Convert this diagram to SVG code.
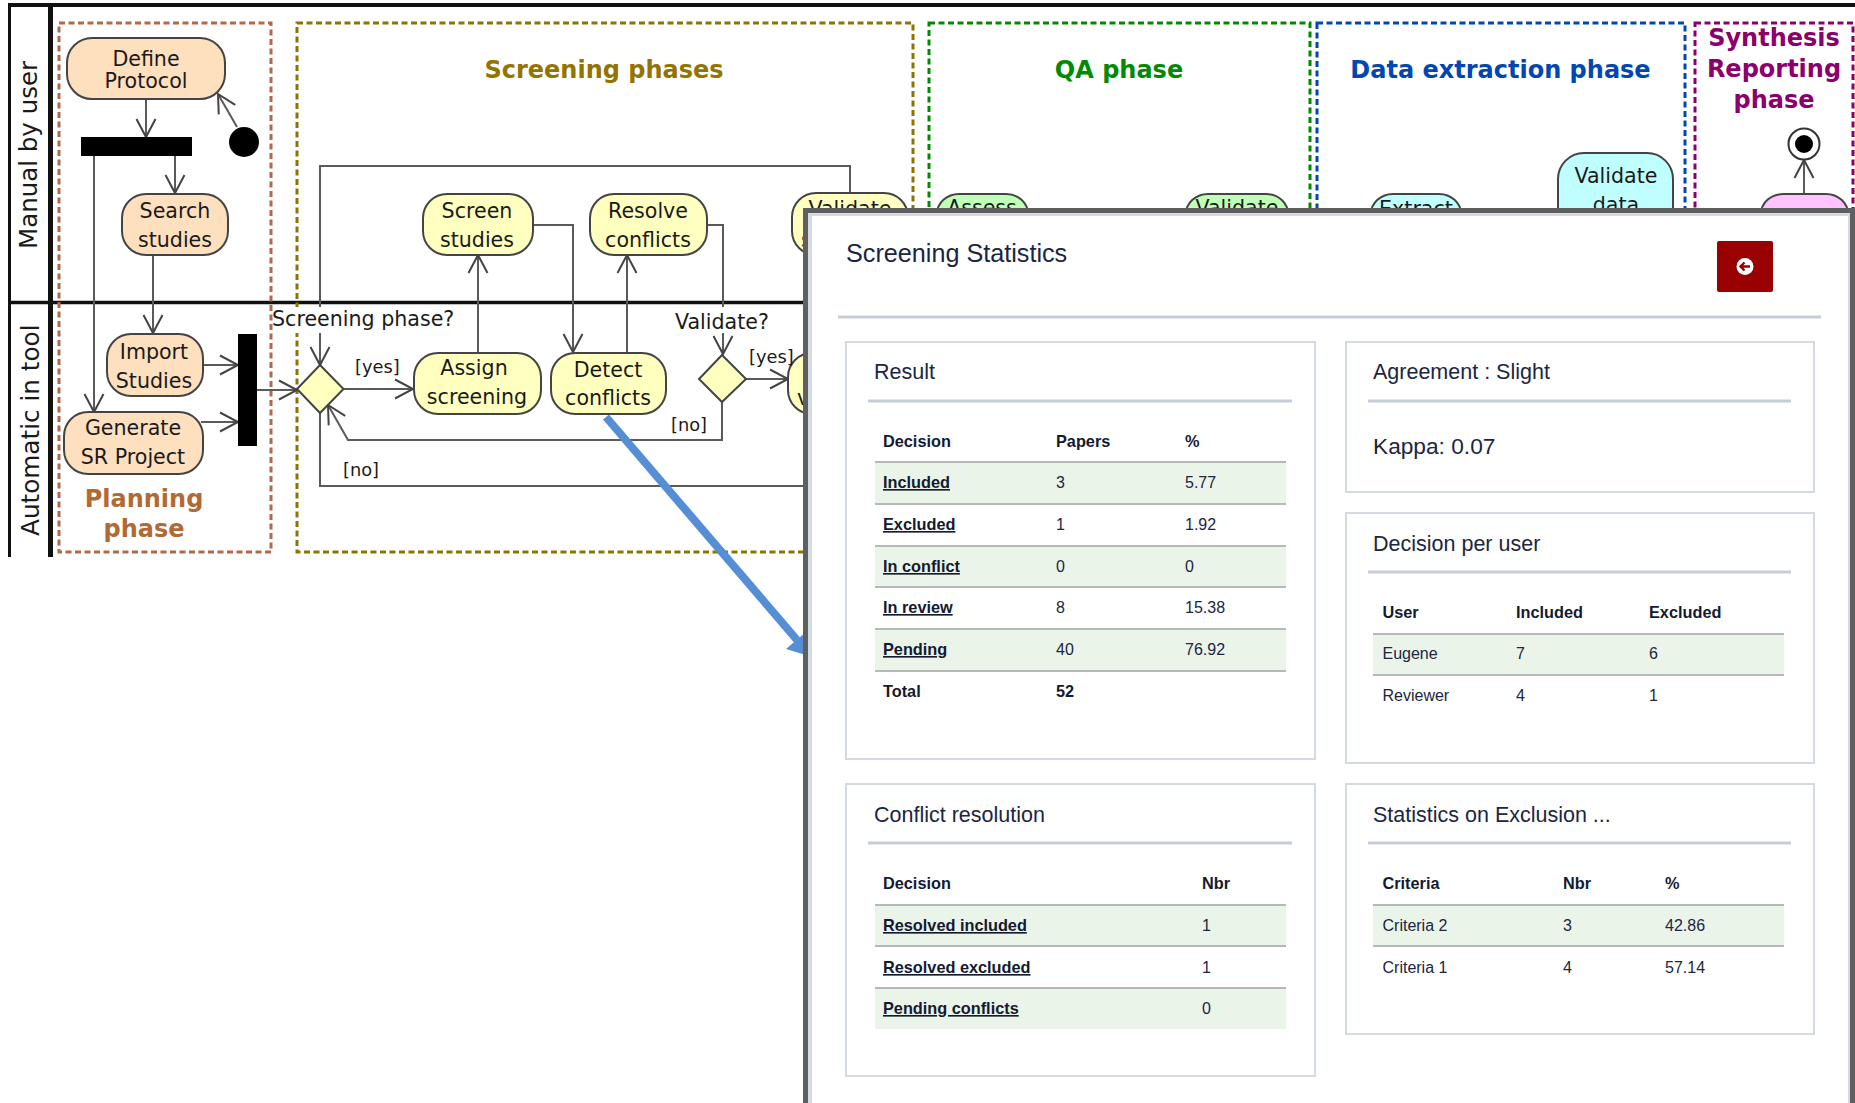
<svg xmlns="http://www.w3.org/2000/svg" width="1855" height="1103" viewBox="0 0 1855 1103">
<style>
.lane{stroke:#111;fill:none}
.ph{fill:none;stroke-width:3;stroke-dasharray:6 3.5}
.n{stroke:#444;stroke-width:2}
.o{fill:#fedfbe}.y{fill:#ffffc0}.g{fill:#c0ffb8}.c{fill:#bfffff}.p{fill:#ffc4ff}
.t{font-family:"DejaVu Sans",Verdana,sans-serif;font-size:20.6px;fill:#1a1a1a}
.m{text-anchor:middle}
.h{font-family:"DejaVu Sans",Verdana,sans-serif;font-size:24px;font-weight:bold;text-anchor:middle}
.l{font-family:"DejaVu Sans",Verdana,sans-serif;font-size:17.8px;fill:#1a1a1a}
.e{fill:none;stroke:#5a5a5a;stroke-width:2}
.a{marker-end:url(#open)}
.card{fill:#fff;stroke:#d3dae2;stroke-width:2}
.rule{stroke:#c5ced8;stroke-width:3}
.rl{stroke:#b5b9b8;stroke-width:2}
.gr{fill:#eaf4e9}
.s{font-family:"Liberation Sans",Arial,sans-serif;font-size:21.5px;fill:#1c2541}
.td{font-family:"Liberation Sans",Arial,sans-serif;font-size:16px;fill:#1c2541}
.b{font-weight:bold;fill:#141a30;font-size:16.3px}
.u{text-decoration:underline;text-decoration-skip-ink:none}
</style>
<defs>
<marker id="open" markerUnits="userSpaceOnUse" viewBox="-20 -11 22 22" markerWidth="22" markerHeight="22" refX="0" refY="0" orient="auto" overflow="visible">
<path d="M-18,-9.5 L0,0 L-18,9.5" fill="none" stroke="#444" stroke-width="2"/>
</marker>
</defs>
<rect width="1855" height="1103" fill="#fff"/>
<g id="lanes">
<path class="lane" stroke-width="4" d="M8,5 H1855"/>
<path class="lane" stroke-width="3" d="M9.5,5 V557"/>
<path class="lane" stroke-width="5" d="M50.5,5 V557"/>
<path class="lane" stroke-width="3.5" d="M8,302.5 H805"/>
<text class="t" style="font-size:24.5px" transform="translate(37,249) rotate(-90)">Manual by user</text>
<text class="t" style="font-size:24.7px" transform="translate(39,536) rotate(-90)">Automatic in tool</text>
</g>
<g id="phases">
<rect class="ph" x="59" y="23" width="212" height="529" stroke="#b0694a"/>
<rect class="ph" x="297" y="23" width="616" height="529" stroke="#8c7400"/>
<rect class="ph" x="929" y="23" width="381" height="300" stroke="#008a00"/>
<rect class="ph" x="1317" y="23" width="368" height="300" stroke="#0047b3"/>
<rect class="ph" x="1695" y="23" width="158" height="300" stroke="#8b006b"/>
<text class="h" x="604" y="78" fill="#947400">Screening phases</text>
<text class="h" x="1119" y="78" fill="#008a00">QA phase</text>
<text class="h" x="1500.5" y="78" fill="#0047b3">Data extraction phase</text>
<text class="h" x="1774" y="46" fill="#8b006b">Synthesis</text>
<text class="h" x="1774" y="77" fill="#8b006b">Reporting</text>
<text class="h" x="1774" y="108" fill="#8b006b">phase</text>
<text class="h" x="144" y="507" fill="#b26a35">Planning</text>
<text class="h" x="144" y="537" fill="#b26a35">phase</text>
</g>
<g id="connectors">
<path class="e a" d="M237,127 L218,94"/>
<path class="e a" d="M146,99 V137"/>
<path class="e a" d="M175,156 V193"/>
<path class="e a" d="M94,156 V412"/>
<path class="e a" d="M153,255 V333"/>
<path class="e a" d="M203,365 H238"/>
<path class="e a" d="M201,422 H238"/>
<path class="e a" d="M257,390 H297"/>
<path class="e a" d="M850,193 V166 H320 V365"/>
<path class="e a" d="M343,389 H413"/>
<path class="e a" d="M478,353 V255"/>
<path class="e a" d="M533,225 H573 V352"/>
<path class="e a" d="M627,353 V255"/>
<path class="e a" d="M707,225 H723 V354"/>
<path class="e a" d="M746,379 H788"/>
<path class="e a" d="M722,402 V440 H348 L328,405"/>
<path class="e" d="M320,413 V486 H805"/>
<path class="e a" d="M1804,193 V160"/>
</g>
<g id="start"><circle cx="244" cy="142" r="15" fill="#000"/></g>
<g id="fork1"><rect x="81" y="137" width="111" height="19" fill="#000"/></g>
<g id="fork2"><rect x="238" y="334" width="19" height="112" fill="#000"/></g>
<g id="define"><rect class="n o" x="67" y="38" width="158" height="61" rx="25"/><text class="t m" x="146" y="66">Define</text><text class="t m" x="146" y="88">Protocol</text></g>
<g id="search"><rect class="n o" x="122" y="194" width="106" height="61" rx="24"/><text class="t m" x="175" y="218">Search</text><text class="t m" x="175" y="247">studies</text></g>
<g id="import"><rect class="n o" x="107" y="334" width="96" height="62" rx="24"/><text class="t m" x="154" y="359">Import</text><text class="t m" x="154" y="388">Studies</text></g>
<g id="generate"><rect class="n o" x="64" y="412" width="139" height="62" rx="24"/><text class="t m" x="133" y="435">Generate</text><text class="t m" x="133" y="464">SR Project</text></g>
<g id="screen"><rect class="n y" x="423" y="194" width="110" height="61" rx="24"/><text class="t m" x="477" y="218">Screen</text><text class="t m" x="477" y="247">studies</text></g>
<g id="resolve"><rect class="n y" x="590" y="194" width="117" height="61" rx="24"/><text class="t m" x="648" y="218">Resolve</text><text class="t m" x="648" y="247">conflicts</text></g>
<g id="validate-screening"><rect class="n y" x="792" y="193" width="116" height="62" rx="24"/><text class="t m" x="850" y="216">Validate</text><text class="t" x="801" y="247">s</text></g>
<g id="assign"><rect class="n y" x="414" y="353" width="127" height="61" rx="24"/><text class="t m" x="474" y="375">Assign</text><text class="t m" x="477" y="404">screening</text></g>
<g id="detect"><rect class="n y" x="551" y="353" width="115" height="61" rx="24"/><text class="t m" x="608" y="377">Detect</text><text class="t m" x="608" y="405">conflicts</text></g>
<g id="next-yellow"><rect class="n y" x="788" y="353" width="60" height="61" rx="24"/><text class="t" x="797" y="405">v</text></g>
<g id="decision1"><path class="n y" d="M320,365 L343.500,389 L320,413 L297,389 Z"/></g>
<g id="decision2"><path class="n y" d="M722,355 L746,379 L722,402 L699,379 Z"/></g>
<g id="labels">
<rect x="274" y="307" width="182" height="26" fill="#fff"/>
<text class="t" x="272" y="326">Screening phase?</text>
<rect x="675" y="307" width="95" height="26" fill="#fff"/>
<text class="t" x="675" y="329">Validate?</text>
<text class="l" x="355" y="373">[yes]</text>
<text class="l" x="343" y="476">[no]</text>
<text class="l" x="749" y="363">[yes]</text>
<text class="l" x="671" y="431">[no]</text>
</g>
<g id="assess"><rect class="n g" x="937" y="194" width="91" height="40" rx="22"/><text class="t m" x="982" y="215">Assess</text></g>
<g id="validate-qa"><rect class="n g" x="1186" y="194" width="102" height="40" rx="22"/><text class="t m" x="1237" y="215">Validate</text></g>
<g id="extract"><rect class="n c" x="1371" y="194" width="90" height="40" rx="22"/><text class="t m" x="1416" y="216">Extract</text></g>
<g id="validate-data"><rect class="n c" x="1558" y="153" width="115" height="80" rx="26"/><text class="t m" x="1616" y="183">Validate</text><text class="t m" x="1616" y="212">data</text></g>
<g id="report"><rect class="n p" x="1761" y="194" width="87" height="40" rx="22"/></g>
<g id="final"><circle cx="1804" cy="144" r="15.500" fill="#fff" stroke="#333" stroke-width="2"/><circle cx="1804" cy="144" r="9" fill="#000"/></g>
<g id="zoom-link">
<path d="M606,417 L797,640" stroke="#558ed5" stroke-width="8" fill="none"/>
<path d="M786,649 L806,632 L809,656 Z" fill="#558ed5"/>
</g>
<g id="panel">
<rect x="803" y="208" width="1060" height="900" fill="#5f5f5f"/>
<rect x="808" y="213" width="1042" height="900" fill="#d5dbe2"/>
<rect x="812" y="216" width="1036" height="900" fill="#fff"/>
<text class="s" style="font-size:25.2px" x="846" y="262">Screening Statistics</text>
<g id="back-button"><rect x="1717" y="241" width="56" height="51" rx="2" fill="#990000"/><circle cx="1745" cy="266.500" r="8.500" fill="#fff"/><path d="M1750,266.500 H1741 M1744.500,262.500 L1740.500,266.500 L1744.500,270.500" fill="none" stroke="#990000" stroke-width="2.400"/></g>
<line class="rule" x1="838" y1="317" x2="1821" y2="317"/>
</g>
<g id="card-result">
<rect class="card" x="846" y="342" width="469" height="417"/>
<text class="s" x="874" y="379">Result</text>
<line class="rule" x1="868" y1="401" x2="1292" y2="401"/>
<rect class="gr" x="875" y="462" width="411" height="42"/><rect class="gr" x="875" y="546" width="411" height="41"/><rect class="gr" x="875" y="629" width="411" height="42"/>
<path class="rl" d="M875,462 H1286 M875,504 H1286 M875,546 H1286 M875,587 H1286 M875,629 H1286 M875,671 H1286"/>
<text class="td b" x="883" y="447">Decision</text><text class="td b" x="1056" y="447">Papers</text><text class="td b" x="1185" y="447">%</text>
<text class="td b u" x="883" y="488">Included</text><text class="td" x="1056" y="488">3</text><text class="td" x="1185" y="488">5.77</text>
<text class="td b u" x="883" y="530">Excluded</text><text class="td" x="1056" y="530">1</text><text class="td" x="1185" y="530">1.92</text>
<text class="td b u" x="883" y="572">In conflict</text><text class="td" x="1056" y="572">0</text><text class="td" x="1185" y="572">0</text>
<text class="td b u" x="883" y="613">In review</text><text class="td" x="1056" y="613">8</text><text class="td" x="1185" y="613">15.38</text>
<text class="td b u" x="883" y="655">Pending</text><text class="td" x="1056" y="655">40</text><text class="td" x="1185" y="655">76.92</text>
<text class="td b" x="883" y="697">Total</text><text class="td b" x="1056" y="697">52</text>
</g>
<g id="card-agreement">
<rect class="card" x="1346" y="342" width="468" height="150"/>
<text class="s" x="1373" y="379">Agreement : Slight</text>
<line class="rule" x1="1368" y1="401" x2="1791" y2="401"/>
<text class="s" style="font-size:22.700px" x="1373" y="454">Kappa: 0.07</text>
</g>
<g id="card-user">
<rect class="card" x="1346" y="513" width="468" height="250"/>
<text class="s" x="1373" y="551">Decision per user</text>
<line class="rule" x1="1368" y1="572" x2="1791" y2="572"/>
<rect class="gr" x="1373" y="634" width="411" height="41"/>
<path class="rl" d="M1373,634 H1784 M1373,675 H1784"/>
<text class="td b" x="1382.500" y="618">User</text><text class="td b" x="1516" y="618">Included</text><text class="td b" x="1649" y="618">Excluded</text>
<text class="td" x="1382.500" y="659">Eugene</text><text class="td" x="1516" y="659">7</text><text class="td" x="1649" y="659">6</text>
<text class="td" x="1382.500" y="701">Reviewer</text><text class="td" x="1516" y="701">4</text><text class="td" x="1649" y="701">1</text>
</g>
<g id="card-conflict">
<rect class="card" x="846" y="784" width="469" height="292"/>
<text class="s" x="874" y="822">Conflict resolution</text>
<line class="rule" x1="868" y1="843" x2="1292" y2="843"/>
<rect class="gr" x="875" y="905" width="411" height="41"/><rect class="gr" x="875" y="988" width="411" height="41"/>
<path class="rl" d="M875,905 H1286 M875,946 H1286 M875,988 H1286"/>
<text class="td b" x="883" y="889">Decision</text><text class="td b" x="1202" y="889">Nbr</text>
<text class="td b u" x="883" y="931">Resolved included</text><text class="td" x="1202" y="931">1</text>
<text class="td b u" x="883" y="973">Resolved excluded</text><text class="td" x="1202" y="973">1</text>
<text class="td b u" x="883" y="1014">Pending conflicts</text><text class="td" x="1202" y="1014">0</text>
</g>
<g id="card-exclusion">
<rect class="card" x="1346" y="784" width="468" height="250"/>
<text class="s" x="1373" y="822">Statistics on Exclusion ...</text>
<line class="rule" x1="1368" y1="843" x2="1791" y2="843"/>
<rect class="gr" x="1373" y="905" width="411" height="41"/>
<path class="rl" d="M1373,905 H1784 M1373,946 H1784"/>
<text class="td b" x="1382.500" y="889">Criteria</text><text class="td b" x="1563" y="889">Nbr</text><text class="td b" x="1665" y="889">%</text>
<text class="td" x="1382.500" y="931">Criteria 2</text><text class="td" x="1563" y="931">3</text><text class="td" x="1665" y="931">42.86</text>
<text class="td" x="1382.500" y="973">Criteria 1</text><text class="td" x="1563" y="973">4</text><text class="td" x="1665" y="973">57.14</text>
</g>
</svg>
